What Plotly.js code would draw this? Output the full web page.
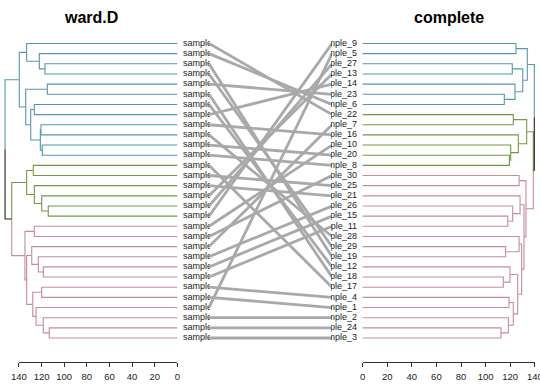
<!DOCTYPE html>
<html><head><meta charset="utf-8">
<script src="https://cdn.plot.ly/plotly-3.0.1.min.js"></script>
<style>html,body{margin:0;padding:0;background:#fff;}#chart{width:540px;height:386px;}</style>
</head><body><div id="chart"></div>
<script>
// ---------------- data ----------------
const leftTitle = 'ward.D';
const rightTitle = 'complete';
// leaf labels, top to bottom
const leftLabels  = [22,6,19,29,23,18,12,14,16,28,20,8,17,25,21,13,27,9,10,30,7,26,15,11,4,1,5,2,24,3];
const rightLabels = [9,5,27,13,14,23,6,22,7,16,10,20,8,30,25,21,26,15,11,28,29,19,12,18,17,4,1,2,24,3];
// merges (R hclust style: -k = k-th leaf in display order, +m = m-th merge)
const leftMerge = [[-3,-4],[-2,1],[-1,2],[-5,-6],[-7,-8],[-9,-10],[-11,-12],[6,7],[5,8],[4,9],[3,10],
  [-13,-14],[-17,-18],[-16,13],[-15,14],[12,15],
  [-19,-20],[-23,-24],[-22,18],[-21,19],[-25,-26],[-29,-30],[-28,22],[-27,23],[21,24],[20,25],[17,26],
  [16,27],[11,28]];
const leftHeight = [117.0,122.0,133.2,114.9,126.4,120.5,119.4,121.1,129.6,134.0,139.7,
  127.3,114.1,119.9,126.4,133.2,
  126.4,118.5,122.9,128.7,119.9,113.2,118.5,124.9,127.8,133.2,134.7,
  146.4,152.3];
const rightMerge = [[-1,-2],[-3,-4],[-6,-7],[-5,3],[2,4],[1,5],
  [-8,-9],[-12,-13],[-11,8],[-10,9],[7,10],
  [-14,-15],[-18,-19],[-17,13],[-16,14],[-21,-22],[-20,16],[-24,-25],[-23,18],[-29,-30],[-28,20],[-26,-27],
  [22,21],[19,23],[17,24],[15,25],[12,26],[11,27],[6,28]];
const rightHeight = [124.7,121.7,115.2,123.9,130.2,133.9,
  122.5,119.3,120.4,126.6,133.4,
  127.2,118.0,122.0,128.0,116.3,127.2,114.4,119.8,112.5,118.5,119.0,
  122.5,126.1,129.3,131.2,132.8,138.8,139.6];
// cluster (k = 3) of each leaf, top to bottom
const leftCluster  = [1,1,1,1,1,1,1,1,1,1,1,1,2,2,2,2,2,2,3,3,3,3,3,3,3,3,3,3,3,3];
const rightCluster = [1,1,1,1,1,1,1,2,2,2,2,2,2,3,3,3,3,3,3,3,3,3,3,3,3,3,3,3,3,3];
const heightTicks = [0,20,40,60,80,100,120,140];

// ---------------- style ----------------
const W = 540, H = 386;
const FONT = 'Liberation Sans, Arial, sans-serif';
const clusterColor = {1:'#5597B0', 2:'#759846', 3:'#C78C9B', none:'#222222'};
const yTop = 43.5, yStep = 10.155;             // pixel position of first leaf, spacing
const L0 = 177.3, Lk = 1.131;                  // left: pixel of height 0, px per unit
const R0 = 362.6, Rk = 1.23;                   // right
const leftClip = 210, midLo = 209, midHi = 332, rightClip = 331;
const leftLabelPx = 183, rightLabelPx = 357;
const labelSize = 9;

function treeSegments(merge, height, cluster) {
  const mid = [], hh = [], cl = [];
  const segs = {};
  function child(c) {
    if (c < 0) return {mid: -c, h: 0, cl: cluster[-c - 1]};
    return {mid: mid[c - 1], h: hh[c - 1], cl: cl[c - 1]};
  }
  merge.forEach((m, k) => {
    const a = child(m[0]), b = child(m[1]);
    const Hh = height[k], M = (a.mid + b.mid) / 2;
    mid[k] = M; hh[k] = Hh;
    cl[k] = (a.cl !== 'none' && a.cl === b.cl) ? a.cl : 'none';
    [a, b].forEach(c => {
      const key = c.cl;
      if (!segs[key]) segs[key] = {x: [], y: []};
      segs[key].x.push(Hh, Hh, c.h, null);
      segs[key].y.push(M, c.mid, c.mid, null);
    });
  });
  return segs;
}

const traces = [];
function addTree(merge, height, cluster, xa) {
  const segs = treeSegments(merge, height, cluster);
  Object.keys(segs).forEach(k => {
    traces.push({type: 'scatter', mode: 'lines', x: segs[k].x, y: segs[k].y,
      xaxis: xa, yaxis: 'y', line: {color: clusterColor[k], width: 1.1},
      hoverinfo: 'skip', showlegend: false});
  });
}
addTree(leftMerge, leftHeight, leftCluster, 'x');
addTree(rightMerge, rightHeight, rightCluster, 'x3');

const pos = leftLabels.map((_, i) => i + 1);
// connecting lines
const cx = [], cy = [];
leftLabels.forEach((lab, i) => {
  const j = rightLabels.indexOf(lab) + 1;
  cx.push(0, 1, null); cy.push(i + 1, j, null);
});
traces.push({type: 'scatter', mode: 'lines', x: cx, y: cy, xaxis: 'x2', yaxis: 'y',
  line: {color: '#A9A9A9', width: 2.8}, hoverinfo: 'skip', showlegend: false});

// labels
const leftLabelH = (L0 - leftLabelPx) / Lk;
const rightLabelH = (rightLabelPx - R0) / Rk;
traces.push({type: 'scatter', mode: 'text', x: pos.map(() => leftLabelH), y: pos,
  text: leftLabels.map(l => 'sample_' + l), textposition: 'middle right', cliponaxis: true,
  textfont: {family: FONT, size: labelSize, color: '#222'}, xaxis: 'x', yaxis: 'y', hoverinfo: 'skip', showlegend: false});
traces.push({type: 'scatter', mode: 'text', x: pos.map(() => rightLabelH), y: pos,
  text: rightLabels.map(l => 'sample_' + l), textposition: 'middle left', cliponaxis: true,
  textfont: {family: FONT, size: labelSize, color: '#222'}, xaxis: 'x3', yaxis: 'y', hoverinfo: 'skip', showlegend: false});
// empty traces for the height axes
traces.push({type: 'scatter', mode: 'lines', x: [], y: [], xaxis: 'x4', yaxis: 'y2', showlegend: false, hoverinfo: 'skip'});
traces.push({type: 'scatter', mode: 'lines', x: [], y: [], xaxis: 'x5', yaxis: 'y2', showlegend: false, hoverinfo: 'skip'});

const hidden = {visible: false, fixedrange: true};
const yr = [1 + (H - yTop) / yStep, 1 - yTop / yStep];
const heightAxis = {
  showline: true, linecolor: '#333', linewidth: 1, ticks: 'outside', ticklen: 4, tickwidth: 1, tickcolor: '#333',
  tickmode: 'array', tickvals: heightTicks, ticktext: heightTicks.map(String), ticklabelstandoff: 2,
  tickfont: {family: FONT, size: 9.5, color: '#222'}, showgrid: false, zeroline: false,
  ticklabeloverflow: 'allow', anchor: 'y2', fixedrange: true
};
const axisY = 361.7;
const layout = {
  width: W, height: H, margin: {l: 0, r: 0, t: 0, b: 0}, paper_bgcolor: '#fff', plot_bgcolor: 'rgba(0,0,0,0)',
  showlegend: false,
  xaxis: Object.assign({}, hidden, {domain: [0, leftClip / W], range: [L0 / Lk, (L0 - leftClip) / Lk], anchor: 'y'}),
  xaxis2: Object.assign({}, hidden, {domain: [midLo / W, midHi / W], range: [0, 1], anchor: 'y'}),
  xaxis3: Object.assign({}, hidden, {domain: [rightClip / W, 1], range: [(rightClip - R0) / Rk, (W - R0) / Rk], anchor: 'y'}),
  yaxis: Object.assign({}, hidden, {domain: [0, 1], range: yr}),
  xaxis4: Object.assign({}, heightAxis, {domain: [(L0 - 140 * Lk) / W, L0 / W], range: [140, 0]}),
  xaxis5: Object.assign({}, heightAxis, {domain: [R0 / W, (R0 + 140 * Rk) / W], range: [0, 140]}),
  yaxis2: Object.assign({}, hidden, {domain: [(H - axisY) / H, (H - axisY) / H + 0.004], range: [0, 1]}),
  annotations: [
    {text: '<b>' + leftTitle + '</b>', xref: 'paper', yref: 'paper', x: 90.5 / W, y: 1 - 18 / H,
     xanchor: 'center', yanchor: 'middle', showarrow: false, font: {family: FONT, size: 16, color: '#000'}},
    {text: '<b>' + rightTitle + '</b>', xref: 'paper', yref: 'paper', x: 448.5 / W, y: 1 - 18 / H,
     xanchor: 'center', yanchor: 'middle', showarrow: false, font: {family: FONT, size: 16, color: '#000'}}
  ]
};
Plotly.newPlot('chart', traces, layout, {staticPlot: true, displayModeBar: false});
</script></body></html>
